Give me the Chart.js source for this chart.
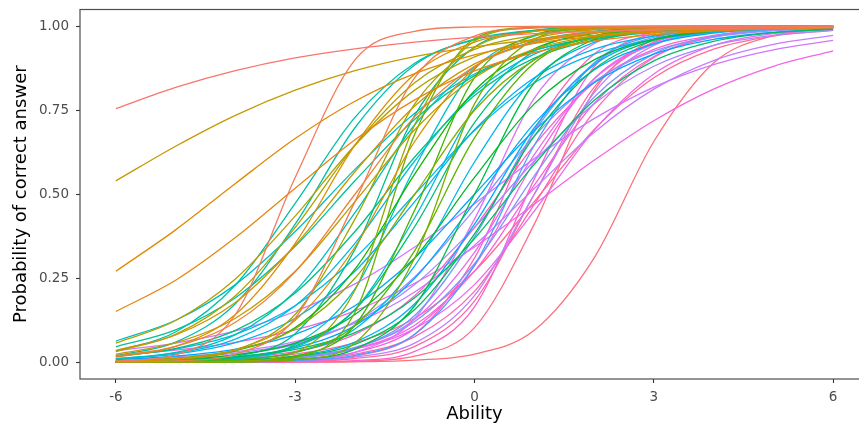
<!DOCTYPE html>
<html>
<head>
<meta charset="utf-8">
<script src="https://cdn.jsdelivr.net/npm/chart.js@4"></script>
<style>
  html, body { margin: 0; padding: 0; background: #ffffff; overflow: hidden; }
  #wrap { width: 859px; height: 427px; overflow: hidden; }
  canvas { display: block; }
</style>
</head>
<body>
<div id="wrap"><canvas id="c" width="880" height="427"></canvas></div>
<script>
// Ability grid (x) and axis tick labels
const ability = [-6, -5, -4, -3, -2, -1, 0, 1, 2, 3, 4, 5, 6];
const xTicks = [-6, -3, 0, 3, 6];
const yTicks = [0, 0.25, 0.5, 0.75, 1];
const yTickLabels = ["0.00", "0.25", "0.50", "0.75", "1.00"];
const xTitle = "Ability";
const yTitle = "Probability of correct answer";

// Probability of correct answer per item, read at each ability value
const item01 = [0.755,0.818,0.868,0.906,0.933,0.953,0.968,0.978,0.985,0.989,0.993,0.995,0.997];
const item02 = [0.003,0.022,0.142,0.550,0.900,0.985,0.998,1.000,1.000,1.000,1.000,1.000,1.000];
const item03 = [0.001,0.004,0.024,0.131,0.478,0.847,0.971,0.995,0.999,1.000,1.000,1.000,1.000];
const item04 = [0.018,0.047,0.119,0.269,0.500,0.731,0.881,0.953,0.982,0.993,0.998,0.999,1.000];
const item05 = [0.151,0.244,0.371,0.518,0.662,0.781,0.867,0.922,0.956,0.975,0.986,0.992,0.996];
const item06 = [0.271,0.394,0.532,0.666,0.777,0.859,0.915,0.949,0.970,0.983,0.990,0.994,0.997];
const item07 = [0.015,0.047,0.142,0.354,0.646,0.858,0.953,0.985,0.995,0.999,1.000,1.000,1.000];
const item08 = [0.003,0.010,0.037,0.125,0.343,0.657,0.875,0.963,0.990,0.997,0.999,1.000,1.000];
const item09 = [0.035,0.081,0.178,0.348,0.567,0.763,0.888,0.951,0.980,0.992,0.997,0.999,1.000];
const item10 = [0.540,0.643,0.735,0.810,0.868,0.910,0.939,0.960,0.973,0.982,0.989,0.993,0.995];
const item11 = [0.024,0.058,0.131,0.271,0.478,0.692,0.847,0.932,0.971,0.988,0.995,0.998,0.999];
const item12 = [0.057,0.124,0.248,0.435,0.646,0.810,0.909,0.959,0.982,0.992,0.997,0.998,0.999];
const item13 = [0.032,0.083,0.198,0.401,0.646,0.832,0.931,0.973,0.990,0.996,0.999,0.999,1.000];
const item14 = [0.002,0.008,0.036,0.142,0.426,0.769,0.937,0.985,0.997,0.999,1.000,1.000,1.000];
const item15 = [0.000,0.000,0.003,0.029,0.214,0.707,0.956,0.995,0.999,1.000,1.000,1.000,1.000];
const item16 = [0.004,0.012,0.036,0.100,0.250,0.500,0.750,0.900,0.964,0.988,0.996,0.999,1.000];
const item17 = [0.000,0.000,0.001,0.008,0.057,0.310,0.769,0.961,0.994,0.999,1.000,1.000,1.000];
const item18 = [0.000,0.000,0.001,0.014,0.148,0.679,0.963,0.997,1.000,1.000,1.000,1.000,1.000];
const item19 = [0.000,0.002,0.007,0.029,0.109,0.332,0.668,0.891,0.971,0.993,0.998,0.999,1.000];
const item20 = [0.000,0.000,0.003,0.018,0.110,0.453,0.847,0.974,0.996,0.999,1.000,1.000,1.000];
const item21 = [0.003,0.010,0.034,0.103,0.277,0.560,0.808,0.933,0.979,0.994,0.998,0.999,1.000];
const item22 = [0.003,0.008,0.022,0.057,0.142,0.310,0.550,0.769,0.900,0.961,0.985,0.994,0.998];
const item23 = [0.000,0.000,0.002,0.008,0.039,0.168,0.500,0.832,0.961,0.992,0.998,1.000,1.000];
const item24 = [0.000,0.002,0.005,0.017,0.053,0.157,0.382,0.673,0.872,0.958,0.987,0.996,0.999];
const item25 = [0.003,0.006,0.016,0.038,0.088,0.192,0.368,0.589,0.779,0.897,0.955,0.981,0.992];
const item26 = [0.001,0.004,0.014,0.048,0.156,0.404,0.713,0.901,0.971,0.992,0.998,0.999,1.000];
const item27 = [0.017,0.041,0.095,0.206,0.389,0.611,0.794,0.905,0.959,0.983,0.993,0.997,0.999];
const item28 = [0.001,0.003,0.017,0.085,0.336,0.735,0.938,0.988,0.998,1.000,1.000,1.000,1.000];
const item29 = [0.046,0.096,0.192,0.345,0.540,0.723,0.853,0.928,0.966,0.985,0.993,0.997,0.999];
const item30 = [0.032,0.090,0.230,0.473,0.729,0.890,0.960,0.986,0.995,0.998,0.999,1.000,1.000];
const item31 = [0.019,0.060,0.174,0.411,0.698,0.885,0.962,0.988,0.996,0.999,1.000,1.000,1.000];
const item32 = [0.010,0.029,0.082,0.211,0.445,0.707,0.879,0.956,0.985,0.995,0.998,0.999,1.000];
const item33 = [0.063,0.125,0.231,0.389,0.574,0.741,0.858,0.928,0.964,0.983,0.992,0.996,0.998];
const item34 = [0.000,0.002,0.011,0.053,0.218,0.579,0.872,0.971,0.994,0.999,1.000,1.000,1.000];
const item35 = [0.001,0.003,0.011,0.044,0.157,0.430,0.754,0.926,0.981,0.995,0.999,1.000,1.000];
const item36 = [0.010,0.027,0.069,0.168,0.354,0.599,0.802,0.917,0.968,0.988,0.995,0.998,0.999];
const item37 = [0.018,0.039,0.083,0.168,0.310,0.500,0.690,0.832,0.917,0.961,0.982,0.992,0.996];
const item38 = [0.001,0.002,0.008,0.029,0.099,0.287,0.596,0.844,0.952,0.986,0.996,0.999,1.000];
const item39 = [0.010,0.024,0.058,0.131,0.271,0.478,0.692,0.847,0.932,0.971,0.988,0.995,0.998];
const item40 = [0.001,0.002,0.006,0.019,0.060,0.174,0.411,0.698,0.885,0.962,0.988,0.996,0.999];
const item41 = [0.002,0.006,0.016,0.043,0.109,0.250,0.475,0.711,0.870,0.948,0.980,0.993,0.997];
const item42 = [0.008,0.018,0.039,0.083,0.168,0.310,0.500,0.690,0.832,0.917,0.961,0.982,0.992];
const item43 = [0.000,0.000,0.001,0.005,0.020,0.083,0.289,0.646,0.891,0.973,0.994,0.999,1.000];
const item44 = [0.000,0.001,0.003,0.012,0.042,0.139,0.373,0.686,0.889,0.967,0.991,0.997,0.999];
const item45 = [0.001,0.002,0.005,0.015,0.044,0.121,0.293,0.555,0.789,0.918,0.971,0.990,0.997];
const item46 = [0.004,0.009,0.022,0.053,0.121,0.254,0.455,0.673,0.835,0.926,0.968,0.987,0.995];
const item47 = [0.005,0.012,0.027,0.057,0.119,0.231,0.401,0.599,0.769,0.881,0.943,0.973,0.988];
const item48 = [0.000,0.000,0.001,0.004,0.015,0.057,0.198,0.500,0.802,0.943,0.985,0.996,0.999];
const item49 = [0.008,0.016,0.031,0.061,0.116,0.209,0.348,0.517,0.684,0.813,0.898,0.946,0.973];
const item50 = [0.034,0.057,0.093,0.151,0.233,0.343,0.472,0.606,0.725,0.819,0.886,0.930,0.958];
const item51 = [0.000,0.000,0.001,0.006,0.029,0.130,0.426,0.786,0.948,0.989,0.998,1.000,1.000];
const item52 = [0.000,0.001,0.004,0.013,0.042,0.128,0.327,0.618,0.843,0.947,0.983,0.995,0.998];
const item53 = [0.001,0.002,0.005,0.015,0.039,0.100,0.231,0.450,0.690,0.858,0.943,0.978,0.992];
const item54 = [0.021,0.036,0.059,0.096,0.153,0.235,0.343,0.470,0.601,0.719,0.813,0.881,0.927];
const item55 = [0.000,0.001,0.002,0.008,0.029,0.100,0.287,0.596,0.844,0.952,0.986,0.996,0.999];
const item56 = [0.001,0.002,0.005,0.014,0.040,0.110,0.271,0.527,0.770,0.910,0.968,0.989,0.996];
const item57 = [0.000,0.000,0.000,0.001,0.005,0.032,0.165,0.545,0.879,0.978,0.996,0.999,1.000];
const item58 = [0.002,0.005,0.012,0.032,0.083,0.198,0.401,0.646,0.832,0.931,0.973,0.990,0.996];
const item59 = [0.000,0.000,0.001,0.004,0.018,0.083,0.310,0.690,0.917,0.982,0.996,0.999,1.000];
const item60 = [0.000,0.001,0.002,0.007,0.024,0.076,0.211,0.470,0.746,0.907,0.970,0.991,0.997];
const item61 = [0.000,0.000,0.001,0.002,0.011,0.047,0.182,0.500,0.818,0.953,0.989,0.998,1.000];
const item62 = [0.002,0.004,0.010,0.024,0.058,0.131,0.271,0.478,0.692,0.847,0.932,0.971,0.988];
const item63 = [0.000,0.000,0.000,0.001,0.003,0.018,0.103,0.411,0.808,0.962,0.994,0.999,1.000];
const item64 = [0.000,0.000,0.000,0.000,0.001,0.006,0.024,0.095,0.310,0.657,0.891,0.972,0.993];

const items = [item01,item02,item03,item04,item05,item06,item07,item08,item09,item10,
  item11,item12,item13,item14,item15,item16,item17,item18,item19,item20,
  item21,item22,item23,item24,item25,item26,item27,item28,item29,item30,
  item31,item32,item33,item34,item35,item36,item37,item38,item39,item40,
  item41,item42,item43,item44,item45,item46,item47,item48,item49,item50,
  item51,item52,item53,item54,item55,item56,item57,item58,item59,item60,
  item61,item62,item63,item64];

// ggplot2-like hue palette (HCL, c=100, l=65)
function hcl(h, c, l) {
  const hr = h * Math.PI / 180;
  const U = c * Math.cos(hr), V = c * Math.sin(hr);
  const Xn = 95.047, Yn = 100, Zn = 108.883;
  const Y = Yn * (l > 7.999592 ? Math.pow((l + 16) / 116, 3) : l / 903.3);
  const t = Xn + 15 * Yn + 3 * Zn;
  const un = 4 * Xn / t, vn = 9 * Yn / t;
  const u = U / (13 * l) + un, v = V / (13 * l) + vn;
  const X = 9 * Y * u / (4 * v);
  const Z = 3 * Y / v - 5 * Y - X / 3;
  const x = X / 100, y = Y / 100, z = Z / 100;
  const r = 3.240479 * x - 1.537150 * y - 0.498535 * z;
  const g = -0.969256 * x + 1.875992 * y + 0.041556 * z;
  const b = 0.055648 * x - 0.204043 * y + 1.057311 * z;
  const gam = s => { s = s <= 0.0031308 ? 12.92 * s : 1.055 * Math.pow(s, 1 / 2.4) - 0.055; return Math.round(Math.max(0, Math.min(1, s)) * 255); };
  return `rgb(${gam(r)},${gam(g)},${gam(b)})`;
}
function huePal(n) {
  const out = [];
  const start = 15, end = 375 - 360 / n;
  for (let i = 0; i < n; i++) {
    const h = n === 1 ? start : start + (end - start) * i / (n - 1);
    out.push(hcl(h % 360, 100, 65));
  }
  return out;
}
const colors = huePal(items.length);

const datasets = items.map((arr, i) => ({
  label: 'Item ' + (i + 1),
  data: ability.map((a, j) => ({ x: a, y: arr[j] })),
  borderColor: colors[i],
  backgroundColor: colors[i],
  borderWidth: 1.3,
  pointRadius: 0,
  fill: false,
  cubicInterpolationMode: 'monotone'
}));

const panelBorder = {
  id: 'panelBorder',
  afterDatasetsDraw(chart) {
    const { ctx, chartArea: a } = chart;
    ctx.save();
    ctx.strokeStyle = '#4d4d4d';
    ctx.lineWidth = 1.2;
    ctx.strokeRect(a.left, a.top, a.right - a.left, a.bottom - a.top);
    ctx.restore();
  }
};

const tickFont = { family: 'DejaVu Sans', size: 13.5 };
const titleFont = { family: 'DejaVu Sans', size: 18 };

new Chart(document.getElementById('c'), {
  type: 'line',
  data: { datasets },
  options: {
    responsive: false,
    animation: false,
    devicePixelRatio: 1,
    layout: { padding: { left: 0, right: 11, top: 9.5, bottom: 0 } },
    plugins: { legend: { display: false }, tooltip: { enabled: false } },
    scales: {
      x: {
        type: 'linear',
        min: -6.6, max: 6.6,
        afterBuildTicks: s => { s.ticks = xTicks.map(v => ({ value: v })); },
        afterFit: s => { s.height = 48; s.paddingLeft = 0; s.paddingRight = 0; },
        ticks: { color: '#4d4d4d', font: tickFont, padding: 6, maxRotation: 0, autoSkip: false,
                 callback: v => String(v) },
        grid: { drawOnChartArea: false, drawTicks: true, tickLength: 4, tickColor: '#333333', tickWidth: 1.1 },
        border: { display: false },
        title: { display: true, text: xTitle, color: '#000000', font: titleFont, padding: { top: 0, bottom: 2 } }
      },
      y: {
        type: 'linear',
        min: -0.05, max: 1.05,
        afterBuildTicks: s => { s.ticks = yTicks.map(v => ({ value: v })); },
        afterFit: s => { s.width = 80; s.paddingTop = 0; s.paddingBottom = 0; },
        ticks: { color: '#4d4d4d', font: tickFont, padding: 7, autoSkip: false,
                 callback: v => { const k = yTicks.indexOf(v); return k >= 0 ? yTickLabels[k] : ''; } },
        grid: { drawOnChartArea: false, drawTicks: true, tickLength: 4, tickColor: '#333333', tickWidth: 1.1 },
        border: { display: false },
        title: { display: true, text: yTitle, color: '#000000', font: titleFont, padding: { top: 11, bottom: 0 } }
      }
    }
  },
  plugins: [panelBorder]
});
</script>
</body>
</html>
